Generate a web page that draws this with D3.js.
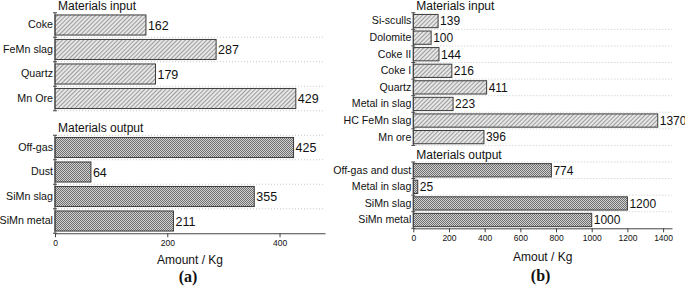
<!DOCTYPE html>
<html>
<head>
<meta charset="utf-8">
<script src="https://cdn.jsdelivr.net/npm/d3@7"></script>
<style>
  body { margin: 0; background: #fff; }
  text { font-family: "Liberation Sans", Arial, sans-serif; fill: #111; }
</style>
</head>
<body>
<svg width="685" height="289"></svg>
<script>
// panel (a)
const inputNamesA = ['Coke', 'FeMn slag', 'Quartz', 'Mn Ore'];
const inputValuesA = [162, 287, 179, 429];
const outputNamesA = ['Off-gas', 'Dust', 'SiMn slag', 'SiMn metal'];
const outputValuesA = [425, 64, 355, 211];
const ticksA = [0, 200, 400];

// panel (b)
const inputNamesB = ['Si-sculls', 'Dolomite', 'Coke II', 'Coke I', 'Quartz', 'Metal in slag', 'HC FeMn slag', 'Mn ore'];
const inputValuesB = [139, 100, 144, 216, 411, 223, 1370, 396];
const outputNamesB = ['Off-gas and dust', 'Metal in slag', 'SiMn slag', 'SiMn metal'];
const outputValuesB = [774, 25, 1200, 1000];
const ticksB = [0, 200, 400, 600, 800, 1000, 1200, 1400];

const svg = d3.select('svg');

// fill patterns
const defs = svg.append('defs');
const hatch = defs.append('pattern')
    .attr('id', 'hatch')
    .attr('patternUnits', 'userSpaceOnUse')
    .attr('width', 3).attr('height', 3)
    .attr('patternTransform', 'rotate(45)');
hatch.append('rect').attr('width', 3).attr('height', 3).attr('fill', '#e6e6e6');
hatch.append('line').attr('x1', 0).attr('y1', 0).attr('x2', 0).attr('y2', 3)
    .attr('stroke', '#6a6a6a').attr('stroke-width', 1.2);

const checker = defs.append('pattern')
    .attr('id', 'checker')
    .attr('patternUnits', 'userSpaceOnUse')
    .attr('width', 2).attr('height', 2);
checker.append('rect').attr('width', 2).attr('height', 2).attr('fill', '#d0d0d0');
checker.append('rect').attr('width', 1).attr('height', 1).attr('fill', '#707070');
checker.append('rect').attr('x', 1).attr('y', 1).attr('width', 1).attr('height', 1).attr('fill', '#707070');

function drawPanel(cfg) {
    const g = svg.append('g');

    const inRows = cfg.inNames.map((n, i) => ({key: 'in:' + n, name: n, value: cfg.inValues[i], fill: 'url(#hatch)'}));
    const outRows = cfg.outNames.map((n, i) => ({key: 'out:' + n, name: n, value: cfg.outValues[i], fill: 'url(#checker)'}));
    const slots = ['hdr:in'].concat(inRows.map(d => d.key), ['hdr:out'], outRows.map(d => d.key));

    const x = d3.scaleLinear().domain([0, cfg.xMax]).range([cfg.x0, cfg.x1]);
    const y = d3.scaleBand().domain(slots).range([cfg.yTop, cfg.yBottom]).paddingInner(cfg.pad).paddingOuter(cfg.pad / 2);
    const step = y.step();
    const top = k => y(k) - y.paddingInner() * step / 2;
    const bottom = k => top(k) + step;

    const rows = inRows.concat(outRows);

    // dotted gridlines at band boundaries
    const gridYs = [];
    inRows.forEach(d => gridYs.push(bottom(d.key)));
    gridYs.push(top(outRows[0].key));
    outRows.slice(0, -1).forEach(d => gridYs.push(bottom(d.key)));
    g.append('g').selectAll('line').data(gridYs).join('line')
        .attr('x1', cfg.x0).attr('x2', cfg.x1)
        .attr('y1', d => d).attr('y2', d => d)
        .attr('stroke', '#c8c8c8')
        .attr('stroke-dasharray', '1,2');

    // bars
    g.append('g').selectAll('rect').data(rows).join('rect')
        .attr('x', x(0))
        .attr('y', d => y(d.key))
        .attr('width', d => x(d.value) - x(0))
        .attr('height', y.bandwidth())
        .attr('fill', d => d.fill)
        .attr('stroke', '#3a3a3a')
        .attr('stroke-width', 1);

    // value labels
    g.append('g').selectAll('text').data(rows).join('text')
        .attr('x', d => x(d.value) + 2)
        .attr('y', d => y(d.key) + y.bandwidth() / 2)
        .attr('dy', '0.36em')
        .attr('font-size', cfg.valueSize)
        .text(d => d.value);

    // category axis (labels only)
    const yAxis = g.append('g')
        .attr('transform', `translate(${cfg.x0},0)`)
        .call(d3.axisLeft(y).tickValues(rows.map(d => d.key)).tickSize(0).tickPadding(2)
            .tickFormat(k => k.slice(k.indexOf(':') + 1)));
    yAxis.select('.domain').remove();
    yAxis.selectAll('text').attr('font-size', cfg.catSize).attr('font-family', null);

    // left axis segments with ticks at band boundaries
    [inRows, outRows].forEach(seg => {
        const y0 = top(seg[0].key), y1 = bottom(seg[seg.length - 1].key);
        g.append('line')
            .attr('x1', cfg.x0).attr('x2', cfg.x0)
            .attr('y1', y0).attr('y2', y1)
            .attr('stroke', '#444');
        const bounds = [y0].concat(seg.map(d => bottom(d.key)));
        g.append('g').selectAll('line').data(bounds).join('line')
            .attr('x1', cfg.x0 - 2).attr('x2', cfg.x0 + 2)
            .attr('y1', d => d).attr('y2', d => d)
            .attr('stroke', '#444');
    });

    // section headers
    g.append('text')
        .attr('x', cfg.x0 + 3)
        .attr('y', bottom('hdr:in') - 3)
        .attr('font-size', 12)
        .text('Materials input');
    g.append('text')
        .attr('x', cfg.x0 + 3)
        .attr('y', bottom('hdr:out') - 3)
        .attr('font-size', 12)
        .text('Materials output');

    // x axis
    const xAxis = g.append('g')
        .attr('transform', `translate(0,${cfg.yBottom})`)
        .call(d3.axisBottom(x).tickValues(cfg.ticks).tickFormat(d3.format('d'))
            .tickSize(4).tickSizeOuter(0).tickPadding(3));
    xAxis.select('.domain').attr('stroke', '#444');
    xAxis.selectAll('.tick line').attr('stroke', '#444');
    xAxis.selectAll('text').attr('font-size', 8.5).attr('font-family', null);

    g.append('text')
        .attr('x', (cfg.x0 + cfg.x1) / 2)
        .attr('y', cfg.titleY)
        .attr('text-anchor', 'middle')
        .attr('font-size', 12)
        .text(cfg.title);

    g.append('text')
        .attr('x', (cfg.x0 + cfg.x1) / 2 - 2)
        .attr('y', cfg.tagY)
        .attr('text-anchor', 'middle')
        .attr('font-size', 16)
        .attr('font-weight', 'bold')
        .style('font-family', '"Liberation Serif", "Times New Roman", serif')
        .text(cfg.tag);
}

drawPanel({
    inNames: inputNamesA, inValues: inputValuesA,
    outNames: outputNamesA, outValues: outputValuesA,
    ticks: ticksA, xMax: 481,
    x0: 55, x1: 325, yTop: -11.75, yBottom: 233.25, pad: 0.18,
    valueSize: 12.5, catSize: 10.7,
    title: 'Amount / Kg', titleY: 264, tag: '(a)', tagY: 282
});

drawPanel({
    inNames: inputNamesB, inValues: inputValuesB,
    outNames: outputNamesB, outValues: outputValuesB,
    ticks: ticksB, xMax: 1450,
    x0: 413.3, x1: 672, yTop: -3.8, yBottom: 228.3, pad: 0.2,
    valueSize: 12, catSize: 10.6,
    title: 'Amout / Kg', titleY: 261, tag: '(b)', tagY: 281
});
</script>
</body>
</html>
